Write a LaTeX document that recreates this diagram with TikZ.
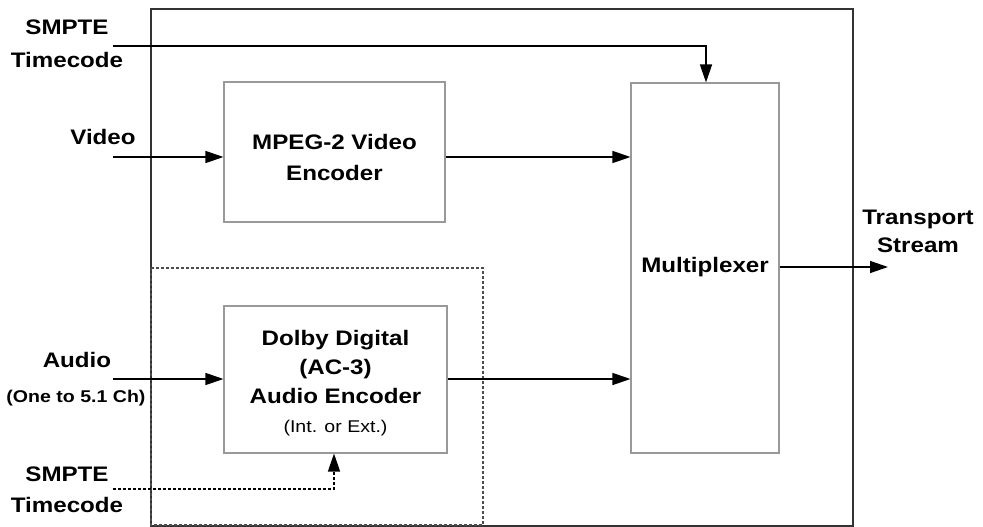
\documentclass[tikz,border=0pt]{standalone}
\usepackage{fontspec}
\setmainfont[FakeStretch=1.15]{Liberation Sans}
\usetikzlibrary{arrows.meta}
\tikzset{
  x=1pt, y=-1pt,
  frame/.style={draw=black!80, line width=1.8pt},
  block/.style={draw=black!40, line width=1.1pt, rectangle, inner sep=0pt},
  btext/.style={align=center, inner sep=0pt, font=\fontsize{21}{30}\selectfont\bfseries},
  label/.style={align=center, inner sep=0pt, font=\fontsize{21}{32}\selectfont\bfseries},
  flow/.style={draw=black, line width=1.4pt, -{Triangle[length=18pt,width=12pt]}},
  dflow/.style={flow, dash pattern=on 3pt off 2pt},
  region/.style={draw=black!70, line width=1.3pt, dash pattern=on 3pt off 2pt}
}
\begin{document}
\begin{tikzpicture}
\useasboundingbox (0,0) rectangle (983,527);
% enclosing frame and audio region
\draw[frame] (151,9) rectangle (853,526);
\draw[region] (151,268) rectangle (483,525);

% processing blocks
\node[block, minimum width=221pt, minimum height=140pt] (venc) at (334.5,152) {};
\node[btext, font=\fontsize{21}{31}\selectfont\bfseries] (vtext) at (334.5,157) {MPEG-2 Video\\Encoder};
\node[block, minimum width=223pt, minimum height=147pt] (aenc) at (335.5,379.5) {};
\node[btext, font=\fontsize{21}{29}\selectfont\bfseries] (atext) at (335.5,367)
  {Dolby Digital\\(AC-3)\\Audio Encoder};
\node[font=\fontsize{17}{19}\selectfont, inner sep=0pt] (aint) at (335.5,428) {(Int. or Ext.)};
\node[block, minimum width=148pt, minimum height=370pt] (mux) at (705,268) {};
\node[btext] (muxt) at (705,267) {Multiplexer};

% input and output labels
\node[label, font=\fontsize{21}{33}\selectfont\bfseries] (smpte1) at (67,44) {SMPTE\\Timecode};
\node[label] (video) at (103,137) {Video};
\node[label] (audio) at (77,360) {Audio};
\node[font=\fontsize{17}{19}\selectfont\bfseries, inner sep=0pt] (audch) at (76,398) {(One to 5.1 Ch)};
\node[label, font=\fontsize{21}{31}\selectfont\bfseries] (smpte2) at (67,490) {SMPTE\\Timecode};
\node[label, font=\fontsize{21}{28}\selectfont\bfseries] (ts) at (918,231) {Transport\\Stream};

% free ends of the signal lines
\coordinate (tcin) at (113,46);
\coordinate (vin) at (113,157);
\coordinate (ain) at (113,379);
\coordinate (tcin2) at (113,489);
\coordinate (tsout) at (888,267);

% signal paths
\draw[flow] (tcin) -| (mux.north -| 706,0);
\draw[flow] (vin) -- (vin -| venc.west);
\draw[flow] (venc.east |- vin) -- (vin -| mux.west);
\draw[flow] (ain) -- (ain -| aenc.west);
\draw[flow] (aenc.east |- ain) -- (ain -| mux.west);
\draw[dflow] (tcin2) -| (aenc.south -| 334,0);
\draw[flow] (mux.east |- tsout) -- (tsout);
\end{tikzpicture}
\end{document}
